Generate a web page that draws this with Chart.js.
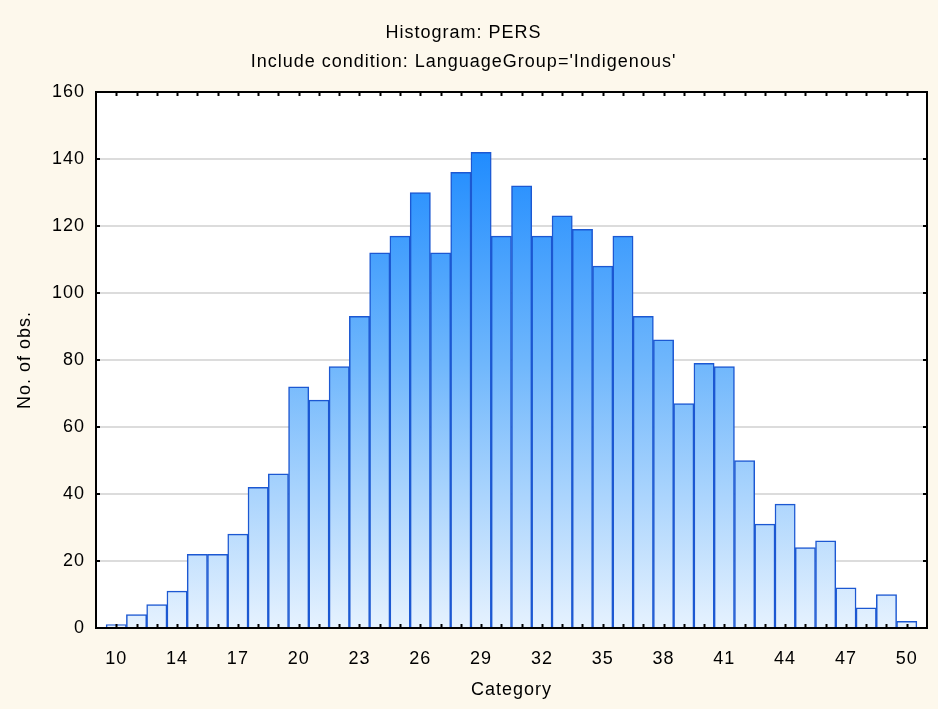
<!DOCTYPE html>
<html>
<head>
<meta charset="utf-8">
<script src="https://cdn.jsdelivr.net/npm/chart.js@4/dist/chart.umd.min.js"></script>
<style>
  html, body { margin: 0; padding: 0; background: #fdf8ec; }
  #chart { display: block; }
</style>
</head>
<body>
<canvas id="chart" width="938" height="709"></canvas>
<script>
// bins of the histogram, only every third bin carries a label
const categories = ['10','','','14','','','17','','','20','','','23','','','26','','','29','','',
                    '32','','','35','','','38','','','41','','','44','','','47','','','50'];
const counts = [1, 4, 7, 11, 22, 22, 28, 42, 46, 72,
                68, 78, 93, 112, 117, 130, 112, 136, 142, 117,
                132, 117, 123, 119, 108, 117, 93, 86, 67, 79,
                78, 50, 31, 37, 24, 26, 12, 6, 10, 2];
const yTicks = [0, 20, 40, 60, 80, 100, 120, 140, 160];

const titleText = 'Histogram: PERS';
const subtitleText = "Include condition: LanguageGroup='Indigenous'";

Chart.defaults.font.family = '"Liberation Sans", Arial, sans-serif';
Chart.defaults.font.size = 18;
Chart.defaults.color = '#000';

let gradientCache = null;
function barGradient(context) {
    const chart = context.chart;
    const area = chart.chartArea;
    if (!area) { return '#8fc4fb'; }
    if (gradientCache && gradientCache.top === area.top && gradientCache.bottom === area.bottom) {
        return gradientCache.fill;
    }
    const g = chart.ctx.createLinearGradient(0, area.top, 0, area.bottom);
    g.addColorStop(0, 'rgb(10,128,255)');
    g.addColorStop(0.5, 'rgb(110,182,252)');
    g.addColorStop(1, 'rgb(230,242,254)');
    gradientCache = { top: area.top, bottom: area.bottom, fill: g };
    return g;
}

// white plot area, letter spacing, and the boxed frame with inward ticks
const framePlugin = {
    id: 'frame',
    beforeDraw(chart) {
        const { ctx, chartArea: a } = chart;
        ctx.letterSpacing = '1px';
        ctx.save();
        ctx.fillStyle = '#ffffff';
        ctx.fillRect(a.left, a.top, a.right - a.left, a.bottom - a.top);
        ctx.restore();
    },
    afterDatasetsDraw(chart) {
        const { ctx, chartArea: a, scales } = chart;
        ctx.save();
        ctx.strokeStyle = '#000';
        ctx.lineWidth = 2;
        ctx.beginPath();
        categories.forEach((c, i) => {
            const x = Math.round(scales.x.getPixelForValue(i)) + 0.5;
            ctx.moveTo(x, a.bottom); ctx.lineTo(x, a.bottom - 4);
            ctx.moveTo(x, a.top); ctx.lineTo(x, a.top + 4);
        });
        yTicks.forEach(v => {
            const y = scales.y.getPixelForValue(v);
            ctx.moveTo(a.left, y); ctx.lineTo(a.left + 4, y);
            ctx.moveTo(a.right, y); ctx.lineTo(a.right - 4, y);
        });
        ctx.stroke();
        ctx.strokeRect(a.left, a.top, a.right - a.left, a.bottom - a.top);
        ctx.restore();
    }
};

new Chart(document.getElementById('chart'), {
    type: 'bar',
    data: {
        datasets: [{
            label: 'No. of obs.',
            data: counts.map((v, i) => ({ x: i, y: v })),
            backgroundColor: barGradient,
            borderColor: '#1c58d2',
            borderWidth: 1.5,
            barPercentage: 1,
            categoryPercentage: 1
        }]
    },
    options: {
        responsive: false,
        animation: false,
        devicePixelRatio: 1,
        layout: { padding: { left: 0, right: 11, top: 0, bottom: 0 } },
        plugins: {
            legend: { display: false },
            tooltip: { enabled: false },
            title: {
                display: true, text: titleText, color: '#000',
                font: { size: 18, weight: 'normal' },
                padding: { top: 22, bottom: 0 }
            },
            subtitle: {
                display: true, text: subtitleText, color: '#000',
                font: { size: 18, weight: 'normal' },
                padding: { top: 7.6, bottom: 19.2 }
            }
        },
        scales: {
            x: {
                type: 'linear',
                offset: false,
                min: -1,
                max: categories.length,
                grid: { display: false },
                border: { display: false },
                afterBuildTicks: scale => { scale.ticks = categories.map((c, i) => ({ value: i })); },
                afterFit: scale => { scale.height = 81; },
                ticks: {
                    autoSkip: false, maxRotation: 0, padding: 12, color: '#000',
                    callback: (value, index) => categories[index]
                },
                title: {
                    display: true, text: 'Category', color: '#000',
                    padding: { top: 0, bottom: 8 }
                }
            },
            y: {
                min: yTicks[0],
                max: yTicks[yTicks.length - 1],
                afterBuildTicks: scale => { scale.ticks = yTicks.map(v => ({ value: v })); },
                afterFit: scale => { scale.width = 96; },
                ticks: { padding: 11, color: '#000' },
                grid: { color: '#dcdcdc', lineWidth: 2, drawTicks: false },
                border: { display: false },
                title: {
                    display: true, text: 'No. of obs.', color: '#000',
                    padding: { top: 14, bottom: 0 }
                }
            }
        }
    },
    plugins: [framePlugin]
});
</script>
</body>
</html>
